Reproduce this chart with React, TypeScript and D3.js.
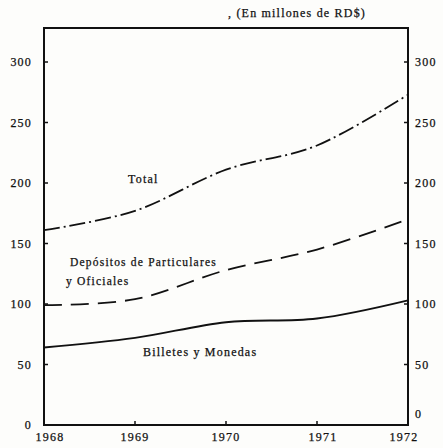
import React from "react";
import * as d3 from "d3";

const years = [1968, 1969, 1970, 1971, 1972];
const total = [161, 177, 211, 231, 273];
const depositos = [99, 104, 128, 145, 170];
const billetes = [64, 72, 85, 88, 103];
const yTicks = [0, 50, 100, 150, 200, 250, 300];

const W = 443, H = 448;
const left = 44, right = 408, top = 28, bottom = 425;

export default function App() {
  const x = d3.scaleLinear().domain([1968, 1972]).range([left, right]);
  const y = d3.scaleLinear().domain([0, 300]).range([bottom, 62]);
  const line = (vals: number[]) =>
    d3.line<number>().x((_, i) => x(years[i])).y((d) => y(d)).curve(d3.curveCatmullRom.alpha(0))(vals) || "";
  const font = "'Liberation Serif', 'DejaVu Serif', serif";
  return (
    <svg width={W} height={H} style={{ position: "absolute", left: 0, top: 0, background: "#fff" }}>
      <rect x={0} y={0} width={W} height={H} fill="#fdfdfb" />
      <g fontFamily={font} fill="#111" fontSize={12} letterSpacing={1.2} stroke="#111" strokeWidth={0.25}>
        <text x={228} y={17}>, (En millones de RD$)</text>
        {yTicks.map((t) => (
          <g key={t}>
            <text x={32} y={y(t) + 4} textAnchor="end">{t}</text>
            <text x={415} y={y(t) + (t === 0 ? -7 : 4)}>{t}</text>
          </g>
        ))}
        {years.map((yr, i) => (
          <text key={yr} x={x(yr) + (i === 0 ? 6 : i === 3 ? 6 : i === 4 ? -4 : 0)} y={441} textAnchor="middle">{yr}</text>
        ))}
        <text x={128} y={183}>Total</text>
        <text x={70} y={266} fontSize={11.5}>Depósitos de Particulares</text>
        <text x={66} y={285} fontSize={11.5}>y Oficiales</text>
        <text x={143} y={356}>Billetes y Monedas</text>
      </g>
      {yTicks.map((t) => (
        <g key={t}>
          <line x1={left} x2={left + 4} y1={y(t)} y2={y(t)} stroke="#111" strokeWidth={1.5} />
          <line x1={right - 4} x2={right} y1={y(t)} y2={y(t)} stroke="#111" strokeWidth={1.5} />
        </g>
      ))}
      {years.slice(1, 4).map((yr) => (
        <line key={yr} x1={x(yr)} x2={x(yr)} y1={bottom} y2={bottom - 4} stroke="#111" strokeWidth={1.5} />
      ))}
      <rect x={left} y={top} width={right - left} height={bottom - top} fill="none" stroke="#111" strokeWidth={2} />
      <path d={line(total)} fill="none" stroke="#111" strokeWidth={1.8} strokeDasharray="16 4 2 4" />
      <path d={line(depositos)} fill="none" stroke="#111" strokeWidth={1.8} strokeDasharray="18 9" />
      <path d={line(billetes)} fill="none" stroke="#111" strokeWidth={2} />
    </svg>
  );
}
